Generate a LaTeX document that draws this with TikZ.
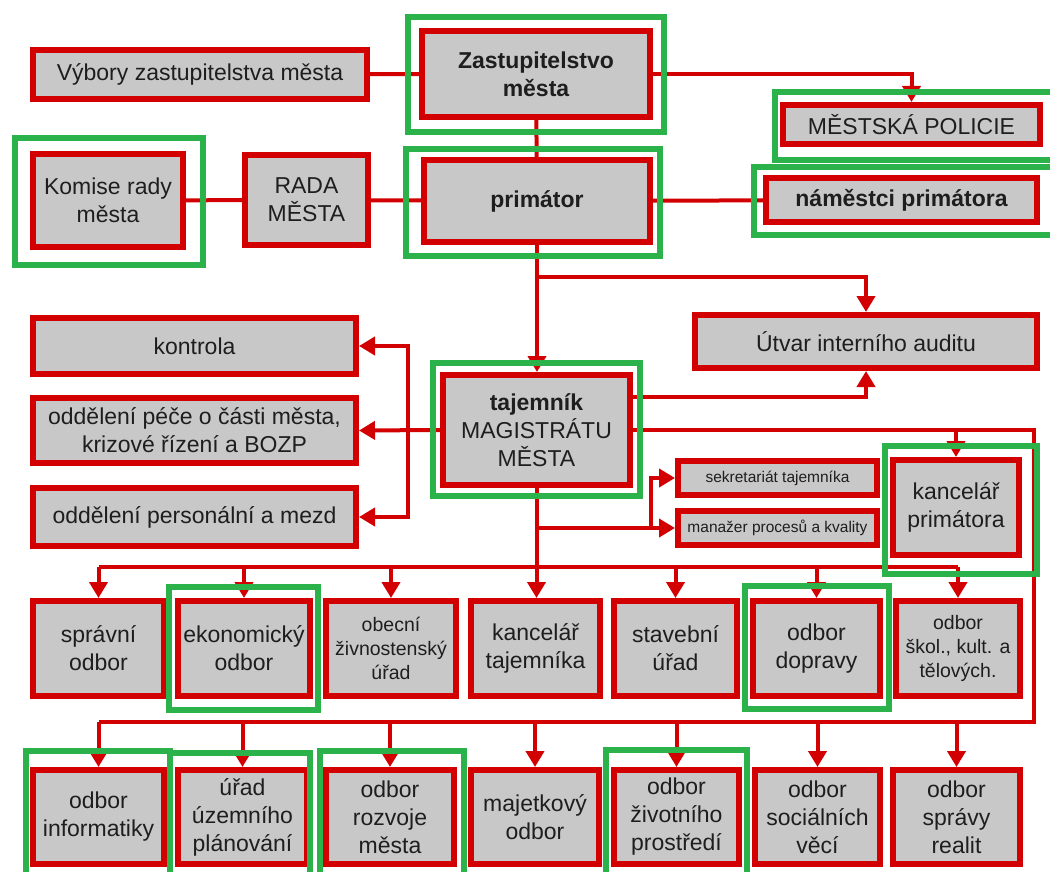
\documentclass[tikz,border=0pt]{standalone}
\usepackage{fontspec}
\setmainfont{Liberation Sans}
\usepackage{xcolor}
\usetikzlibrary{arrows.meta}

\definecolor{ored}{RGB}{210,0,0}
\definecolor{ogreen}{RGB}{44,178,74}
\definecolor{ogray}{RGB}{200,200,200}
\definecolor{otext}{RGB}{30,30,30}

\begin{document}
\begin{tikzpicture}[x=1pt, y=-1pt,
    unitbox/.style={draw=ored, line width=6pt, fill=ogray, text=otext, align=center, inner sep=0pt, font=\fontsize{23}{28}\selectfont},
    smallbox/.style={unitbox, font=\fontsize{19.5}{24}\selectfont},
    tinybox/.style={unitbox, font=\fontsize{15.5}{18}\selectfont},
    link/.style={draw=ored, line width=4pt},
    greenframe/.style={draw=ogreen, line width=6pt},
    >={Triangle[width=18pt,length=16pt]}]
    \useasboundingbox (0,0) rectangle (1050,872);
    \clip (0,0) rectangle (1050,872);

    % City council level
    \node[unitbox, minimum width=334pt, minimum height=49pt] (vybory) at (200,74.5) {Výbory zastupitelstva města};
    \node[unitbox, minimum width=228pt, minimum height=86pt, font=\fontsize{23}{28}\selectfont\bfseries] (zastup) at (536,74) {Zastupitelstvo\\města};
    \node[unitbox, minimum width=257pt, minimum height=39pt] (policie) at (911.5,124.5) {MĚSTSKÁ POLICIE};
    \node[unitbox, minimum width=150pt, minimum height=93pt] (komise) at (108,200.5) {Komise rady\\města};
    \node[unitbox, minimum width=123pt, minimum height=90pt] (rada) at (306.5,200) {RADA\\MĚSTA};
    \node[unitbox, minimum width=226pt, minimum height=82pt, font=\fontsize{23}{28}\selectfont\bfseries] (primator) at (537,201) {primátor};
    \node[unitbox, minimum width=271pt, minimum height=44pt, font=\fontsize{23}{28}\selectfont\bfseries] (namestci) at (901.5,200) {náměstci primátora};

    % Office of the secretary
    \node[unitbox, minimum width=342pt, minimum height=53pt] (utvar) at (866,341.5) {Útvar interního auditu};
    \node[unitbox, minimum width=323pt, minimum height=56pt] (kontrola) at (194.5,346) {kontrola};
    \node[unitbox, minimum width=323pt, minimum height=65pt] (pece) at (194.5,430.5) {oddělení péče o části města,\\krizové řízení a BOZP};
    \node[unitbox, minimum width=323pt, minimum height=58pt] (personal) at (194.5,517) {oddělení personální a mezd};
    \node[unitbox, minimum width=187pt, minimum height=110pt] (tajemnik) at (536.5,430) {\textbf{tajemník}\\MAGISTRÁTU\\MĚSTA};
    \node[tinybox, minimum width=199pt, minimum height=34pt] (sekret) at (777.5,478) {sekretariát tajemníka};
    \node[tinybox, minimum width=199pt, minimum height=34pt] (manazer) at (777.5,528) {manažer procesů a kvality};
    \node[unitbox, minimum width=126pt, minimum height=95pt] (kancprim) at (956,507.5) {kancelář\\primátora};

    % Departments, first row
    \node[unitbox, minimum width=131pt, minimum height=95pt] (spravni) at (98.5,648.5) {správní\\odbor};
    \node[unitbox, minimum width=132pt, minimum height=95pt] (ekonom) at (244,648.5) {ekonomický\\odbor};
    \node[smallbox, minimum width=130pt, minimum height=95pt] (obecni) at (391,648.5) {obecní\\živnostenský\\úřad};
    \node[unitbox, minimum width=129pt, minimum height=95pt] (kanctaj) at (535.5,648.5) {kancelář\\tajemníka};
    \node[unitbox, minimum width=123pt, minimum height=95pt] (stavebni) at (675.5,648.5) {stavební\\úřad};
    \node[unitbox, minimum width=127pt, minimum height=95pt] (dopravy) at (816.5,648.5) {odbor\\dopravy};
    \node[smallbox, minimum width=124pt, minimum height=95pt] (skol) at (958,648.5) {odbor\\škol., kult. a\\tělových.};

    % Departments, second row
    \node[unitbox, minimum width=131pt, minimum height=94pt] (informatiky) at (98.5,817) {odbor\\informatiky};
    \node[unitbox, minimum width=129pt, minimum height=94pt] (uzemni) at (242.5,817) {úřad\\územního\\plánování};
    \node[unitbox, minimum width=128pt, minimum height=94pt] (rozvoje) at (390,817) {odbor\\rozvoje\\města};
    \node[unitbox, minimum width=128pt, minimum height=94pt] (majetek) at (535,817) {majetkový\\odbor};
    \node[unitbox, minimum width=125pt, minimum height=94pt] (zivot) at (676.5,817) {odbor\\životního\\prostředí};
    \node[unitbox, minimum width=125pt, minimum height=94pt] (social) at (817.5,817) {odbor\\sociálních\\věcí};
    \node[unitbox, minimum width=127pt, minimum height=94pt] (realit) at (956.5,817) {odbor\\správy\\realit};

    % Connections, top
    \draw[link] (vybory) -- (zastup);
    \draw[link, ->] (zastup.east) -| (policie.north);
    \draw[link] (zastup) -- (primator);
    \draw[link] (komise) -- (rada);
    \draw[link] (rada) -- (primator);
    \draw[link] (primator) -- (namestci);
    \draw[link, ->] (primator.south) -- (primator.south |- tajemnik.north);
    \coordinate (audit) at (537,277);
    \draw[link, ->] (audit) -| (utvar.north);
    \draw[link, ->] ([yshift=33pt]tajemnik.east) -| (utvar.south);

    % Connections, left of tajemnik
    \coordinate (leftbus) at (408,430);
    \draw[link, ->] (tajemnik.west) -- (pece.east);
    \draw[link, ->] (leftbus) |- (kontrola.east);
    \draw[link, ->] (leftbus) |- (personal.east);

    % Connections, right of tajemnik
    \coordinate (rightup) at (1034,430);
    \coordinate (rightdown) at (1034,722);
    \draw[link] (tajemnik.east) -- (rightup) -- (rightdown) -- (informatiky.north |- rightdown);
    \draw[link, ->] (kancprim.north |- rightup) -- (kancprim.north);
    \coordinate (secbus) at (537,528);
    \coordinate (secup) at (651,528);
    \draw[link, ->] (secbus) -- (manazer.west);
    \draw[link, ->] (secup) |- (sekret.west);

    % First row
    \coordinate (rowone) at (537,567);
    \draw[link, ->] (tajemnik.south) -- (tajemnik.south |- kanctaj.north);
    \draw[link] (spravni.north |- rowone) -- (skol.north |- rowone);
    \draw[link, ->] (spravni.north |- rowone) -- (spravni.north);
    \draw[link, ->] (ekonom.north |- rowone) -- (ekonom.north);
    \draw[link, ->] (obecni.north |- rowone) -- (obecni.north);
    \draw[link, ->] (stavebni.north |- rowone) -- (stavebni.north);
    \draw[link, ->] (dopravy.north |- rowone) -- (dopravy.north);
    \draw[link, ->] (skol.north |- rowone) -- (skol.north);

    % Second row
    \draw[link, ->] (informatiky.north |- rightdown) -- (informatiky.north);
    \draw[link, ->] (uzemni.north |- rightdown) -- (uzemni.north);
    \draw[link, ->] (rozvoje.north |- rightdown) -- (rozvoje.north);
    \draw[link, ->] (majetek.north |- rightdown) -- (majetek.north);
    \draw[link, ->] (zivot.north |- rightdown) -- (zivot.north);
    \draw[link, ->] (social.north |- rightdown) -- (social.north);
    \draw[link, ->] (realit.north |- rightdown) -- (realit.north);

    % Green highlights
    \draw[greenframe] (408,17) rectangle (664,132);
    \draw[greenframe] (15,138) rectangle (203,265);
    \draw[greenframe] (406,149) rectangle (660,256);
    \draw[greenframe] (775,92) rectangle (1060,160);
    \draw[greenframe] (754,167) rectangle (1060,235);
    \draw[greenframe] (433,363) rectangle (640,496);
    \draw[greenframe] (885,446) rectangle (1037,574);
    \draw[greenframe] (169,587) rectangle (318,710);
    \draw[greenframe] (745,586) rectangle (889,709);
    \draw[greenframe] (26,751) rectangle (170,885);
    \draw[greenframe] (170,753) rectangle (310,885);
    \draw[greenframe] (320,751) rectangle (464,885);
    \draw[greenframe] (606,750) rectangle (747,885);
\end{tikzpicture}
\end{document}
